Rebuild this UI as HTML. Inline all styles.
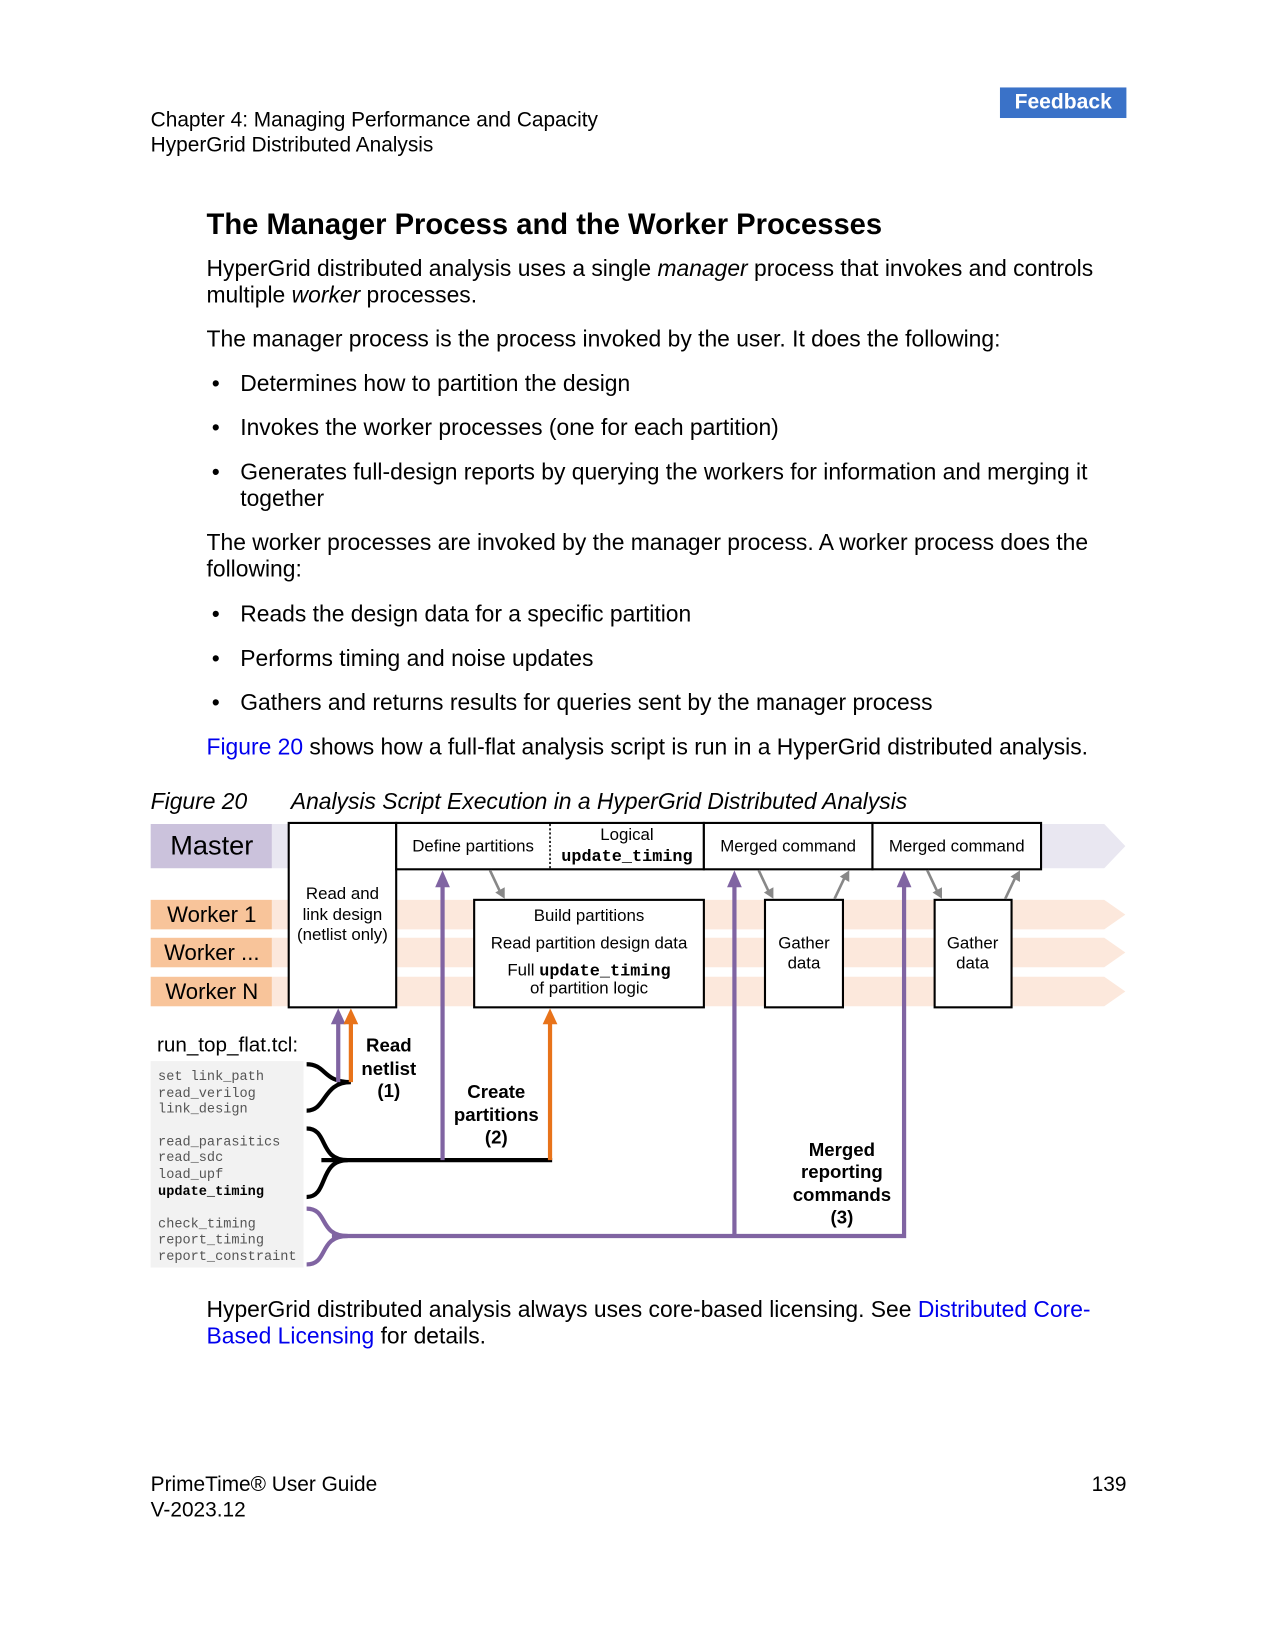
<!DOCTYPE html>
<html><head><meta charset="utf-8"><style>
body{margin:0;background:#fff;font-family:"Liberation Sans",sans-serif;color:#000}
.p{position:absolute;margin:0;font-size:21.7px;line-height:25px;white-space:nowrap}
a{color:#0000ee;text-decoration:none}
#w{position:absolute;left:0;top:0;width:1210px;height:1566px;transform:scale(1.0537);transform-origin:0 0}
</style></head><body>
<div style="position:relative;width:1275px;height:1650px;overflow:hidden">
<div id="w">
<div style="position:absolute;left:949px;top:83px;width:120px;height:29px;background:#3a72c8;color:#fff;font-weight:bold;font-size:20px;text-align:center;line-height:29px">Feedback</div>
<p class="p" style="left:143px;top:102px;font-size:19.8px;line-height:24px">Chapter 4: Managing Performance and Capacity<br>HyperGrid Distributed Analysis</p>
<p class="p" style="left:196px;top:198px;font-size:27.7px;font-weight:bold;line-height:30px">The Manager Process and the Worker Processes</p>
<p class="p" style="left:196px;top:242px">HyperGrid distributed analysis uses a single <i>manager</i> process that invokes and controls<br>multiple <i>worker</i> processes.</p>
<p class="p" style="left:196px;top:309px">The manager process is the process invoked by the user. It does the following:</p>
<p class="p" style="left:201px;top:351px">•</p><p class="p" style="left:228px;top:351px">Determines how to partition the design</p>
<p class="p" style="left:201px;top:393px">•</p><p class="p" style="left:228px;top:393px">Invokes the worker processes (one for each partition)</p>
<p class="p" style="left:201px;top:435px">•</p><p class="p" style="left:228px;top:435px">Generates full-design reports by querying the workers for information and merging it<br>together</p>
<p class="p" style="left:196px;top:502px">The worker processes are invoked by the manager process. A worker process does the<br>following:</p>
<p class="p" style="left:201px;top:570px">•</p><p class="p" style="left:228px;top:570px">Reads the design data for a specific partition</p>
<p class="p" style="left:201px;top:612px">•</p><p class="p" style="left:228px;top:612px">Performs timing and noise updates</p>
<p class="p" style="left:201px;top:654px">•</p><p class="p" style="left:228px;top:654px">Gathers and returns results for queries sent by the manager process</p>
<p class="p" style="left:196px;top:696px"><a>Figure 20</a> shows how a full-flat analysis script is run in a HyperGrid distributed analysis.</p>
<p class="p" style="left:143px;top:748px;font-style:italic">Figure 20</p>
<p class="p" style="left:276px;top:748px;font-style:italic">Analysis Script Execution in a HyperGrid Distributed Analysis</p>

<svg style="position:absolute;left:0;top:0" width="1210" height="1566" font-family="Liberation Sans, sans-serif">
<path d="M258,782H1048L1068,803L1048,824H258z" fill="#e9e7f1"/>
<rect x="143" y="782" width="115" height="42" fill="#cbc2dc"/>
<text x="201" y="811" font-size="25.8" text-anchor="middle">Master</text>
<g fill="#fce8dc">
<path d="M258,854H1048L1068,868L1048,882H258z"/>
<path d="M258,890H1048L1068,904L1048,918H258z"/>
<path d="M258,927H1048L1068,941L1048,955H258z"/>
</g>
<g fill="#f8c49a"><rect x="143" y="854" width="115" height="28"/><rect x="143" y="890" width="115" height="28"/><rect x="143" y="927" width="115" height="28"/></g>
<g font-size="21" text-anchor="middle"><text x="201" y="875">Worker 1</text><text x="201" y="911">Worker ...</text><text x="201" y="948">Worker N</text></g>
<g fill="#fff" stroke="#000" stroke-width="2">
<rect x="274" y="781" width="102" height="175"/>
<rect x="376" y="781" width="292" height="44"/>
<rect x="668" y="781" width="160" height="44"/>
<rect x="828" y="781" width="160" height="44"/>
<rect x="450" y="854" width="218" height="102"/>
<rect x="726" y="854" width="74" height="102"/>
<rect x="887" y="854" width="73" height="102"/>
</g>
<line x1="522" y1="782" x2="522" y2="824" stroke="#000" stroke-width="1.5" stroke-dasharray="2,2"/>
<g font-size="16" text-anchor="middle">
<text x="325" y="853">Read and</text><text x="325" y="873">link design</text><text x="325" y="892">(netlist only)</text>
<text x="449" y="808">Define partitions</text>
<text x="595" y="797">Logical</text>
<text x="595" y="817" font-family="Liberation Mono, monospace" font-weight="bold">update_timing</text>
<text x="748" y="808">Merged command</text><text x="908" y="808">Merged command</text>
<text x="559" y="874">Build partitions</text>
<text x="559" y="900">Read partition design data</text>
<text x="559" y="926">Full <tspan font-family="Liberation Mono, monospace" font-weight="bold">update_timing</tspan></text>
<text x="559" y="943">of partition logic</text>
<text x="763" y="900">Gather</text><text x="763" y="919">data</text>
<text x="923" y="900">Gather</text><text x="923" y="919">data</text>
</g>
<g stroke="#888" stroke-width="2.5">
<line x1="465" y1="826" x2="474" y2="845"/><line x1="720" y1="826" x2="729" y2="845"/>
<line x1="792" y1="853" x2="801" y2="834"/><line x1="880" y1="826" x2="889" y2="845"/>
<line x1="954" y1="853" x2="963" y2="834"/>
</g>
<g fill="#888">
<path d="M470,847L479,853L479,842z"/><path d="M725,847L734,853L734,842z"/>
<path d="M797,832L806,826L806,837z"/><path d="M885,847L894,853L894,842z"/>
<path d="M959,832L968,826L968,837z"/>
</g>
<rect x="143" y="1007" width="145" height="196" fill="#f2f2f2"/>
<text x="149" y="998" font-size="19.6">run_top_flat.tcl:</text>
<g font-family="Liberation Mono, monospace" font-size="12.9" fill="#555">
<text x="150" y="1025">set link_path</text><text x="150" y="1041">read_verilog</text><text x="150" y="1056">link_design</text>
<text x="150" y="1087">read_parasitics</text><text x="150" y="1102">read_sdc</text><text x="150" y="1118">load_upf</text>
<text x="150" y="1134" fill="#000" font-weight="bold">update_timing</text>
<text x="150" y="1165">check_timing</text><text x="150" y="1180">report_timing</text><text x="150" y="1196">report_constraint</text>
</g>
<g fill="none" stroke-width="4">
<path d="M291,1010C310,1010 306,1027 333,1027C306,1027 310,1054 291,1054" stroke="#000"/>
<path d="M291,1071C312,1071 302,1101 330,1101C302,1101 312,1136 291,1136" stroke="#000"/>
<path d="M291,1147C312,1147 302,1173 330,1173C302,1173 312,1200 291,1200" stroke="#8064a2"/>
<line x1="305" y1="1101" x2="524" y2="1101" stroke="#000"/>
<path d="M315,1173H858V840" stroke="#8064a2"/>
<line x1="697" y1="1173" x2="697" y2="840" stroke="#8064a2"/>
<line x1="420" y1="1101" x2="420" y2="840" stroke="#8064a2"/>
<line x1="321" y1="1027" x2="321" y2="970" stroke="#8064a2"/>
<line x1="333" y1="1027" x2="333" y2="970" stroke="#e8731a"/>
<line x1="522" y1="1101" x2="522" y2="970" stroke="#e8731a"/>
</g>
<g fill="#8064a2"><path d="M413,842L420,826L427,842z"/><path d="M690,842L697,826L704,842z"/><path d="M851,842L858,826L865,842z"/><path d="M314,972L321,957L328,972z"/></g>
<g fill="#e8731a"><path d="M326,972L333,957L340,972z"/><path d="M515,972L522,957L529,972z"/></g>
<g font-size="17.7" font-weight="bold" text-anchor="middle">
<text x="369" y="998">Read</text><text x="369" y="1020">netlist</text><text x="369" y="1041">(1)</text>
<text x="471" y="1042">Create</text><text x="471" y="1064">partitions</text><text x="471" y="1085">(2)</text>
<text x="799" y="1097">Merged</text><text x="799" y="1118">reporting</text><text x="799" y="1140">commands</text><text x="799" y="1161">(3)</text>
</g>
</svg>

<p class="p" style="left:196px;top:1230px">HyperGrid distributed analysis always uses core-based licensing. See <a>Distributed Core-<br>Based Licensing</a> for details.</p>
<p class="p" style="left:143px;top:1397px;font-size:19.8px;line-height:24px">PrimeTime® User Guide<br>V-2023.12</p>
<p class="p" style="left:1036px;top:1397px;font-size:19.8px;line-height:24px">139</p>
</div>
</div>
</body></html>
